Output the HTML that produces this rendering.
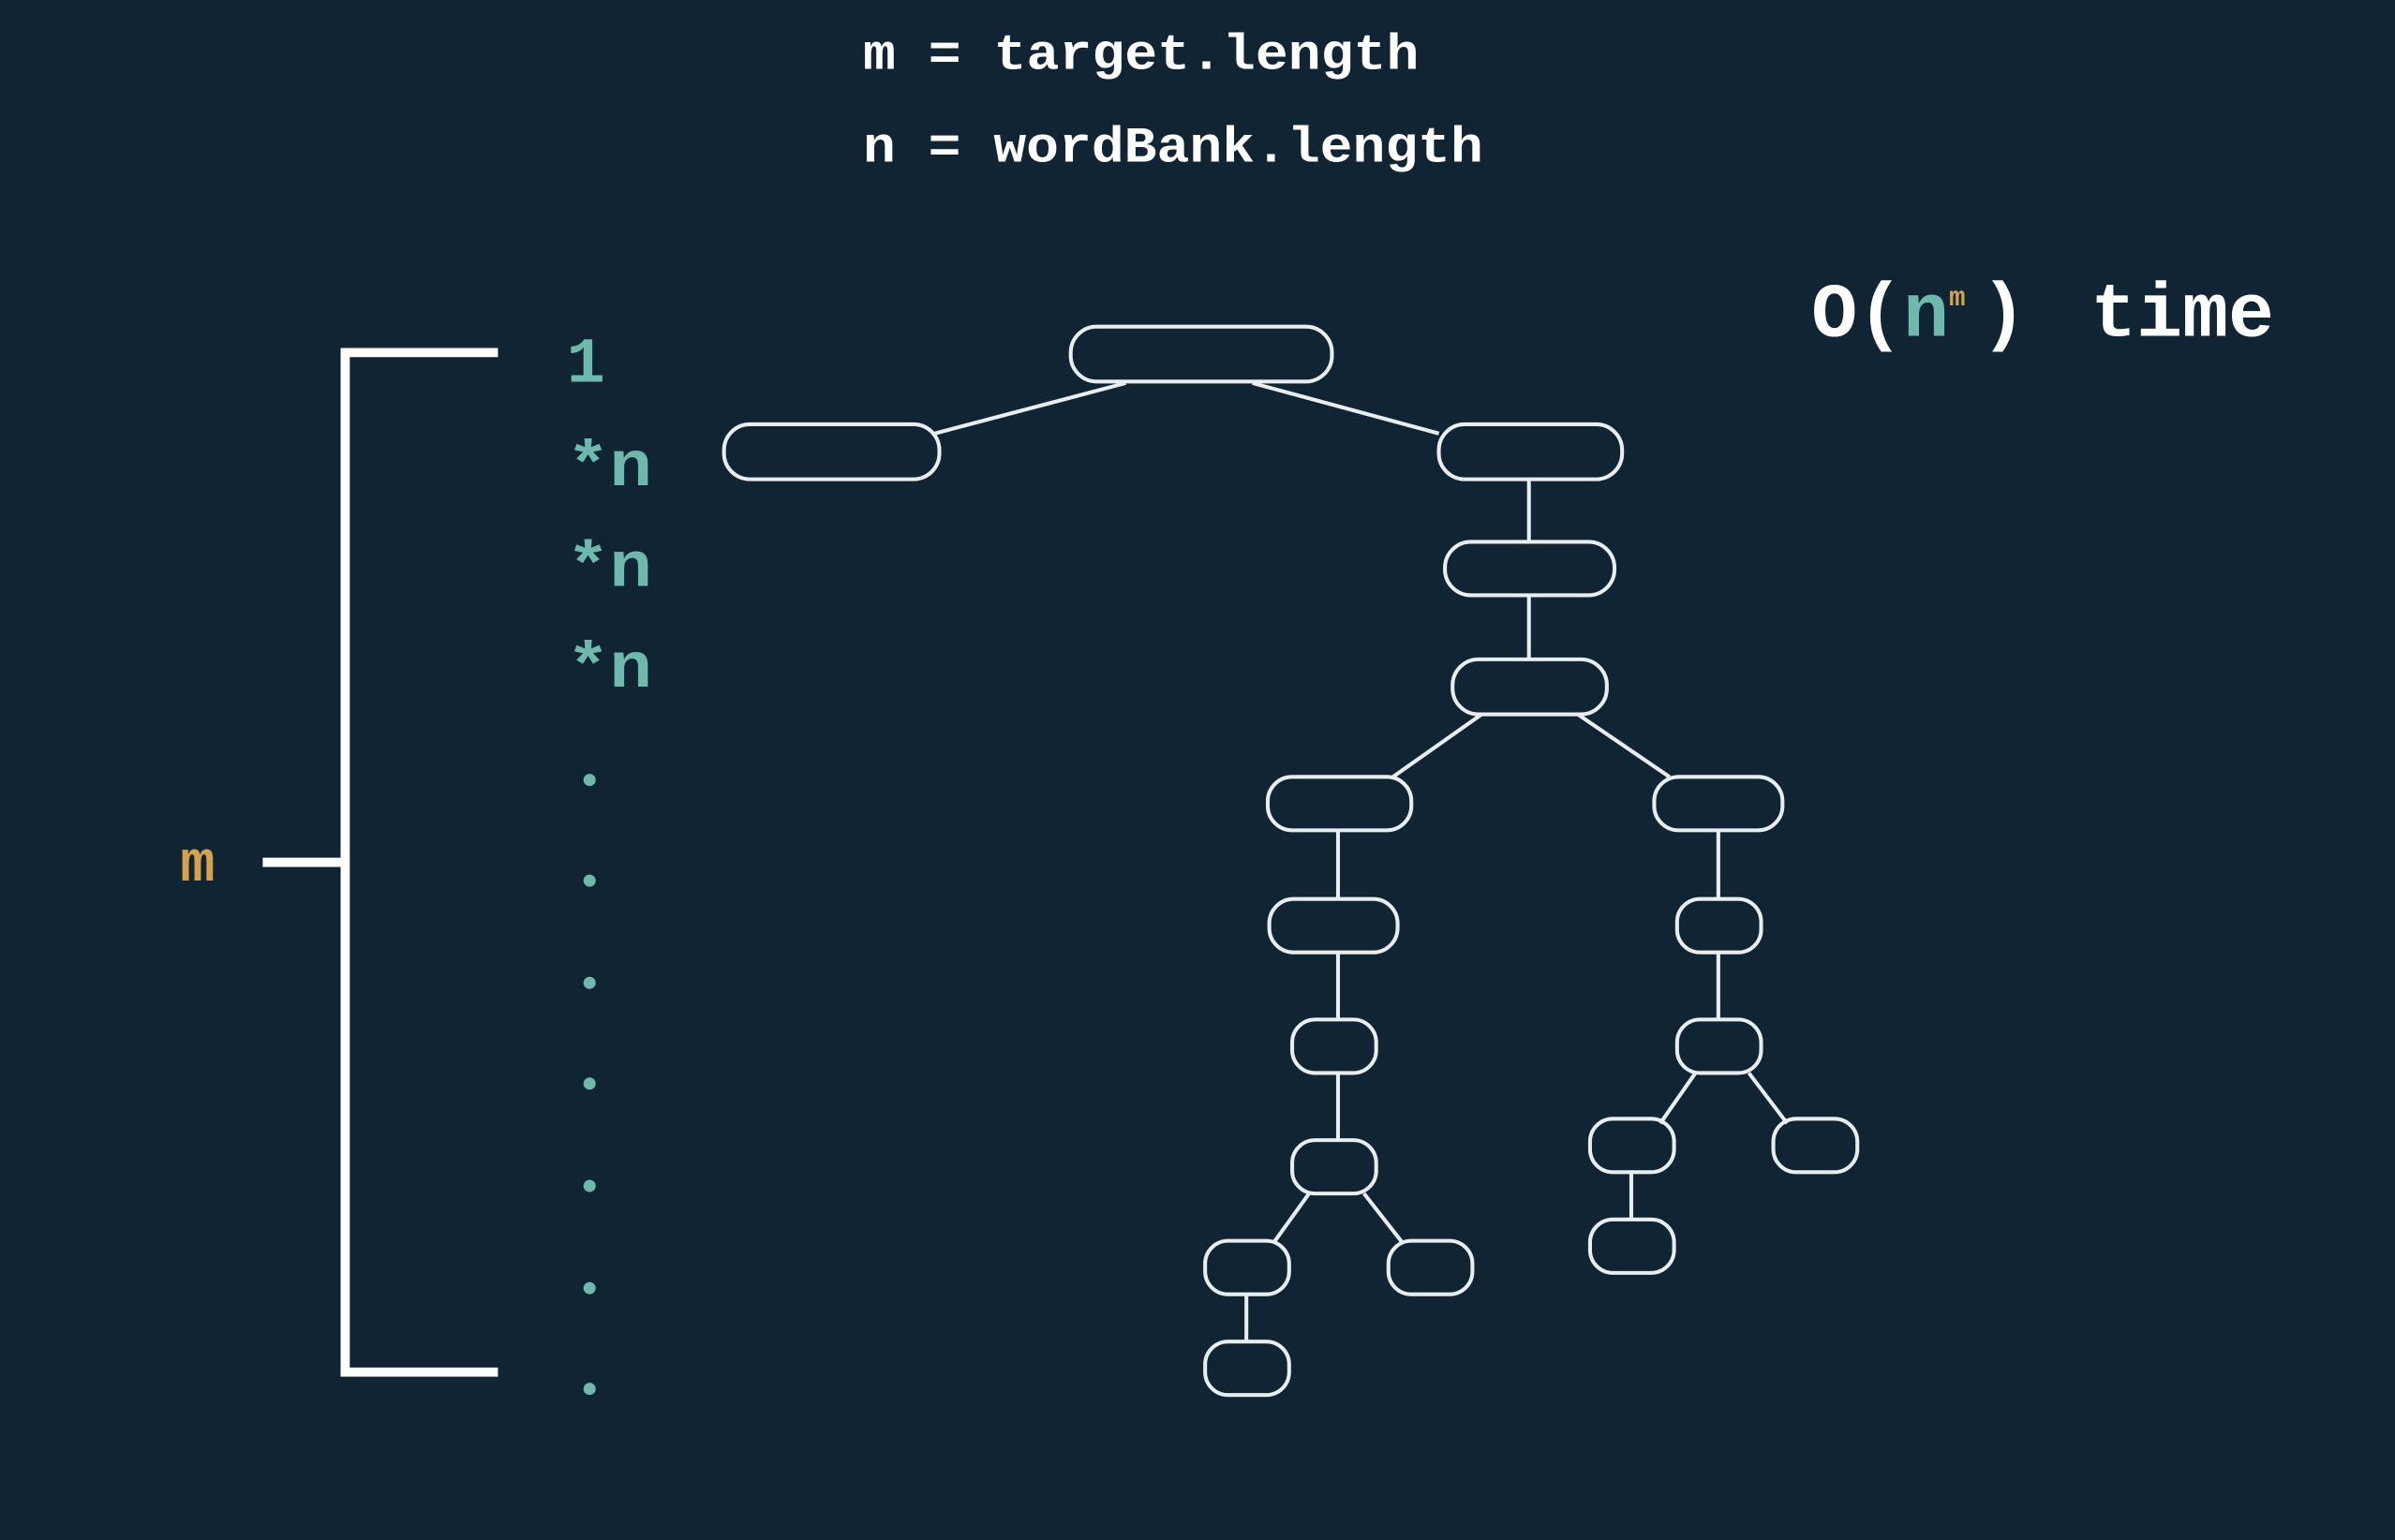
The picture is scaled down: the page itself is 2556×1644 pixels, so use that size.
<!DOCTYPE html>
<html><head><meta charset="utf-8"><style>
html,body{margin:0;padding:0;background:#112433;width:2556px;height:1644px;overflow:hidden}
svg{display:block}
text{font-family:"Liberation Mono","DejaVu Sans Mono",monospace;font-weight:bold}
</style></head><body>
<svg width="2556" height="1644" viewBox="0 0 1568 1009" preserveAspectRatio="none">
<rect width="1568" height="1009" fill="#112433"/>
<text x="565" y="45" font-size="33" fill="#ffffff" textLength="364" lengthAdjust="spacingAndGlyphs">m = target.length</text>
<text x="565" y="106" font-size="33" fill="#ffffff" textLength="406" lengthAdjust="spacingAndGlyphs">n = wordBank.length</text>
<text x="1186" y="220" font-size="50" fill="#ffffff">O(<tspan fill="#6fb8ad">n</tspan><tspan fill="#d4a24c" font-size="18" dy="-20">m</tspan><tspan dy="20" dx="10">)</tspan><tspan dx="42" textLength="120" lengthAdjust="spacingAndGlyphs">time</tspan></text>
<g stroke="#ffffff" stroke-width="6" fill="none">
<polyline points="326,231 226,231 226,899 326,899"/>
<line x1="172" y1="565" x2="226" y2="565"/>
</g>
<text x="118" y="577" font-size="38" fill="#d4a24c">m</text>
<g fill="#6fb8ad" font-size="42">
<text x="371" y="250">1</text>
<text x="371" y="318" textLength="56" lengthAdjust="spacingAndGlyphs">*n</text>
<text x="371" y="384" textLength="56" lengthAdjust="spacingAndGlyphs">*n</text>
<text x="371" y="450" textLength="56" lengthAdjust="spacingAndGlyphs">*n</text>
</g>
<g fill="#6fb8ad">
<circle cx="386" cy="511" r="4"/><circle cx="386" cy="577" r="4"/><circle cx="386" cy="644" r="4"/>
<circle cx="386" cy="710" r="4"/><circle cx="386" cy="777" r="4"/><circle cx="386" cy="844" r="4"/><circle cx="386" cy="910" r="4"/>
</g>
<g stroke="#e8eef0" stroke-width="2.5" fill="none">
<line x1="737" y1="251" x2="612" y2="284"/><line x1="820" y1="251" x2="942" y2="284"/>
<line x1="1001" y1="313" x2="1001" y2="355"/><line x1="1001" y1="390" x2="1001" y2="432"/>
<line x1="970" y1="468" x2="912" y2="509"/><line x1="1033" y1="468" x2="1093" y2="509"/>
<line x1="876" y1="544" x2="876" y2="589"/><line x1="876" y1="624" x2="876" y2="668"/><line x1="876" y1="703" x2="876" y2="747"/>
<line x1="1125" y1="544" x2="1125" y2="589"/><line x1="1125" y1="624" x2="1125" y2="668"/>
<line x1="1110" y1="703" x2="1087" y2="736"/><line x1="1145" y1="703" x2="1170" y2="736"/>
<line x1="857" y1="782" x2="834" y2="814"/><line x1="893" y1="782" x2="918" y2="814"/>
<line x1="1068" y1="768" x2="1068" y2="799"/><line x1="816" y1="848" x2="816" y2="879"/>
<rect x="701" y="214" width="171" height="36" rx="17"/>
<rect x="474" y="278" width="141" height="36" rx="17"/>
<rect x="942" y="278" width="120" height="36" rx="17"/>
<rect x="946" y="355" width="111" height="35" rx="17"/>
<rect x="951" y="432" width="101" height="36" rx="17"/>
<rect x="830" y="509" width="94" height="35" rx="16"/>
<rect x="1083" y="509" width="84" height="35" rx="16"/>
<rect x="831" y="589" width="84" height="35" rx="16"/>
<rect x="1098" y="589" width="55" height="35" rx="15"/>
<rect x="846" y="668" width="55" height="35" rx="15"/>
<rect x="1098" y="668" width="55" height="35" rx="15"/>
<rect x="846" y="747" width="55" height="35" rx="15"/>
<rect x="1041" y="733" width="55" height="35" rx="15"/>
<rect x="1161" y="733" width="55" height="35" rx="15"/>
<rect x="789" y="813" width="55" height="35" rx="15"/>
<rect x="909" y="813" width="55" height="35" rx="15"/>
<rect x="1041" y="799" width="55" height="35" rx="15"/>
<rect x="789" y="879" width="55" height="35" rx="15"/>
</g>
</svg>
</body></html>
